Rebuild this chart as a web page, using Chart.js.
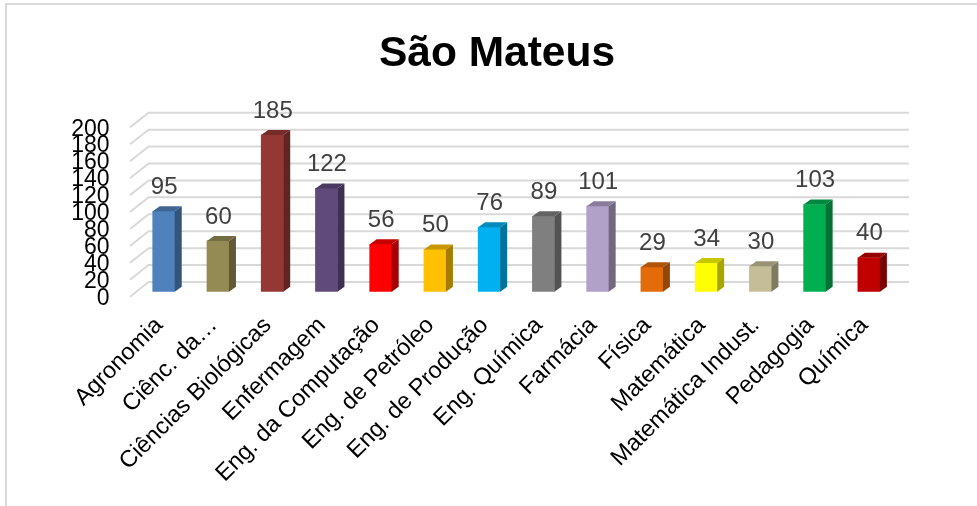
<!DOCTYPE html>
<html>
<head>
<meta charset="utf-8">
<title>São Mateus</title>
<script src="https://cdn.jsdelivr.net/npm/chart.js@4"></script>
<style>
    body { margin: 0; background: #fff; }
    #frame { position: absolute; left: 5px; top: 3px; width: 972px; height: 503px; box-sizing: border-box; border-top: 2px solid #d9d9d9; border-left: 2px solid #d9d9d9; }
    canvas { position: absolute; left: 0; top: 0; }
</style>
</head>
<body>
<div id="frame"></div>
<canvas id="myChart" width="977" height="506"></canvas>
<script>
const categories = ['Agronomia', 'Ciênc. da…', 'Ciências Biológicas', 'Enfermagem', 'Eng. da Computação', 'Eng. de Petróleo', 'Eng. de Produção', 'Eng. Química', 'Farmácia', 'Física', 'Matemática', 'Matemática Indust.', 'Pedagogia', 'Química'];
const values = [95, 60, 185, 122, 56, 50, 76, 89, 101, 29, 34, 30, 103, 40];
const yTickValues = [0, 20, 40, 60, 80, 100, 120, 140, 160, 180, 200];
const barColors = ['#4f81bd', '#948a54', '#953735', '#604a7b', '#ff0000', '#ffc000', '#00b0f0', '#7f7f7f', '#b1a0c7', '#e36c09', '#ffff00', '#c4bd97', '#00b050', '#c00000'];

const fontName = '"Liberation Sans", Arial, sans-serif';

function shade(hex, f) {
    const n = parseInt(hex.slice(1), 16);
    const r = Math.round((n >> 16) * f);
    const g = Math.round(((n >> 8) & 255) * f);
    const b = Math.round((n & 255) * f);
    return `rgb(${r},${g},${b})`;
}

// back wall and left side of the fake 3D box
const wallPlugin = {
    id: 'wall',
    beforeDatasetsDraw(chart) {
        const { ctx, chartArea, scales } = chart;
        ctx.save();
        ctx.strokeStyle = '#d9d9d9';
        ctx.lineWidth = 2;
        yTickValues.forEach((v) => {
            const y = scales.y.getPixelForValue(v);
            ctx.beginPath();
            ctx.moveTo(chartArea.left - 6.6, y + 5);
            ctx.lineTo(chartArea.left + 12, y - 9.7);
            ctx.lineTo(chartArea.right + 13, y - 9.7);
            ctx.stroke();
        });
        ctx.restore();
    }
};

// side and top of each bar, and the value above it
const barFacesPlugin = {
    id: 'barFaces',
    afterDatasetsDraw(chart) {
        const { ctx } = chart;
        const dx = 7, dy = 5;
        ctx.save();
        chart.getDatasetMeta(0).data.forEach((bar, i) => {
            const left = bar.x - bar.width / 2;
            const right = bar.x + bar.width / 2;

            ctx.fillStyle = shade(barColors[i], 0.65);
            ctx.beginPath();
            ctx.moveTo(right, bar.y);
            ctx.lineTo(right + dx, bar.y - dy);
            ctx.lineTo(right + dx, bar.base - dy);
            ctx.lineTo(right, bar.base);
            ctx.closePath();
            ctx.fill();

            ctx.fillStyle = shade(barColors[i], 0.78);
            ctx.beginPath();
            ctx.moveTo(left, bar.y);
            ctx.lineTo(left + dx, bar.y - dy);
            ctx.lineTo(right + dx, bar.y - dy);
            ctx.lineTo(right, bar.y);
            ctx.closePath();
            ctx.fill();

            ctx.fillStyle = '#404040';
            ctx.font = '24px ' + fontName;
            ctx.textAlign = 'center';
            ctx.textBaseline = 'middle';
            ctx.fillText(String(values[i]), bar.x + 0.5, bar.y - 24);
        });
        ctx.restore();
    }
};

const ctx = document.getElementById('myChart').getContext('2d');
const myChart = new Chart(ctx, {
    type: 'bar',
    data: {
        labels: categories,
        datasets: [{
            data: values,
            backgroundColor: barColors,
            barThickness: 22,
            yAxisID: 'y'
        }]
    },
    plugins: [wallPlugin, barFacesPlugin],
    options: {
        responsive: false,
        animation: false,
        layout: { padding: { left: 17, right: 0, top: 0, bottom: 0 } },
        plugins: {
            legend: { display: false },
            tooltip: { enabled: false },
            title: {
                display: true,
                text: 'São Mateus',
                color: '#000',
                font: { family: fontName, size: 42.5, weight: 'bold', lineHeight: 1.2 },
                padding: { top: 28.5, bottom: 42.9 }
            }
        },
        scales: {
            x: {
                grid: { display: false },
                border: { display: false },
                ticks: {
                    autoSkip: false,
                    minRotation: 45,
                    maxRotation: 45,
                    padding: 12,
                    labelOffset: -4.5,
                    color: '#000',
                    font: { family: fontName, size: 23.5 }
                },
                afterFit(scale) { scale.height = 214.3; }
            },
            // bars use this one, it only keeps the room on the right
            y: {
                position: 'right',
                min: 0,
                max: 200,
                grid: { display: false },
                border: { display: false },
                ticks: { display: false },
                afterFit(scale) { scale.width = 81; }
            },
            // labels follow the front edge of the floor, a bit lower than the bars
            yLabels: {
                position: 'left',
                min: 8,
                max: 208,
                grid: { display: false },
                border: { display: false },
                afterBuildTicks(scale) { scale.ticks = yTickValues.map((value) => ({ value })); },
                ticks: {
                    autoSkip: false,
                    padding: 19,
                    color: '#000',
                    font: { family: fontName, size: 23 },
                    callback: (v) => String(v)
                },
                afterFit(scale) { scale.width = 119.6; }
            }
        }
    }
});
</script>
</body>
</html>
